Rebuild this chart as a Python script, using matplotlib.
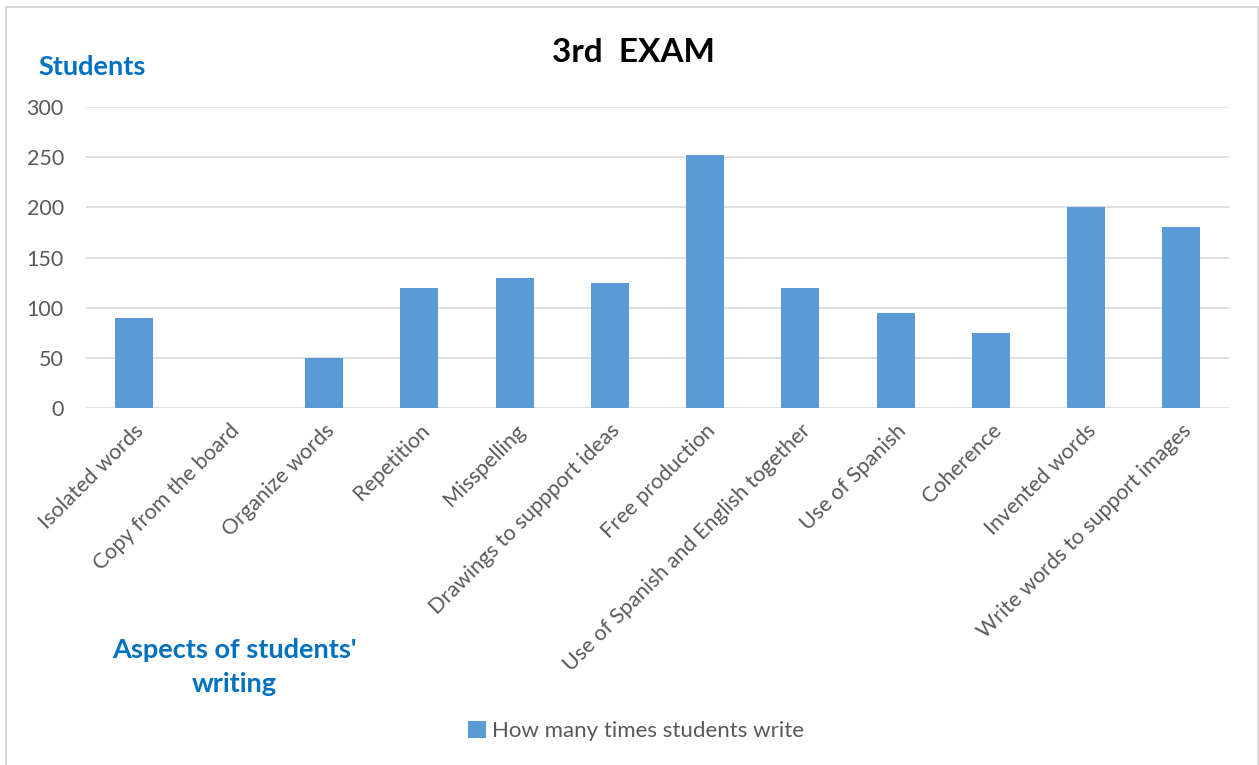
import matplotlib.pyplot as plt
from matplotlib.patches import Rectangle

# data
categories = ["Isolated words", "Copy from the board", "Organize words", "Repetition",
              "Misspelling", "Drawings to suppport ideas", "Free production",
              "Use of Spanish and English together", "Use of Spanish", "Coherence",
              "Invented words", "Write words to support images"]
values = [90, 0, 50, 120, 130, 125, 252, 120, 95, 75, 200, 180]
yticks = [0, 50, 100, 150, 200, 250, 300]

bar_color = "#5B9BD5"
blue = "#0070C0"
gray = "#595959"
plt.rcParams['font.family'] = ['Lato', 'DejaVu Sans']

fig = plt.figure(figsize=(12.59, 7.65), dpi=100)
ax = fig.add_axes([86/1259, 1-408/765, (1229-86)/1259, (408-107)/765])

x = range(len(categories))
ax.bar(x, values, width=0.4, color=bar_color, zorder=3, label="How many times students write")

ax.set_xlim(-0.5, len(categories)-0.5)
ax.set_ylim(0, 300)
ax.set_yticks(yticks)
ax.yaxis.grid(True, color="#D9D9D9", linewidth=1.2, zorder=0)
for s in ax.spines.values():
    s.set_visible(False)
ax.tick_params(axis="x", length=0, labelsize=15.5, colors=gray, pad=9)
ax.tick_params(axis="y", length=0, labelsize=15.5, colors=gray, pad=16)
ax.set_xticks(list(x))
ax.set_xticklabels(categories, rotation=45, ha="right", rotation_mode="anchor")

fig.text(633/1259, 1-52/765, "3rd  EXAM", ha="center", va="center",
         fontsize=24, fontweight="bold", color="black")
fig.text(38/1259, 1-67/765, "Students", ha="left", va="center",
         fontsize=19.5, fontweight="bold", color=blue)
fig.text(234/1259, 1-667/765, "Aspects of students'\nwriting", ha="center", va="center",
         fontsize=19.5, fontweight="bold", color=blue, linespacing=1.45)

leg = fig.legend(loc="center", bbox_to_anchor=(636/1259, 1-731/765), frameon=False,
                 fontsize=16, handlelength=0.8, handleheight=0.8, handletextpad=0.3)
for t in leg.get_texts():
    t.set_color(gray)

fig.patches.append(Rectangle((6/1259, -0.01), (1258-6)/1259, 1-7/765+0.01,
                             transform=fig.transFigure, fill=False,
                             edgecolor="#D9D9D9", linewidth=1.5))

plt.savefig("out.png", dpi=100)
